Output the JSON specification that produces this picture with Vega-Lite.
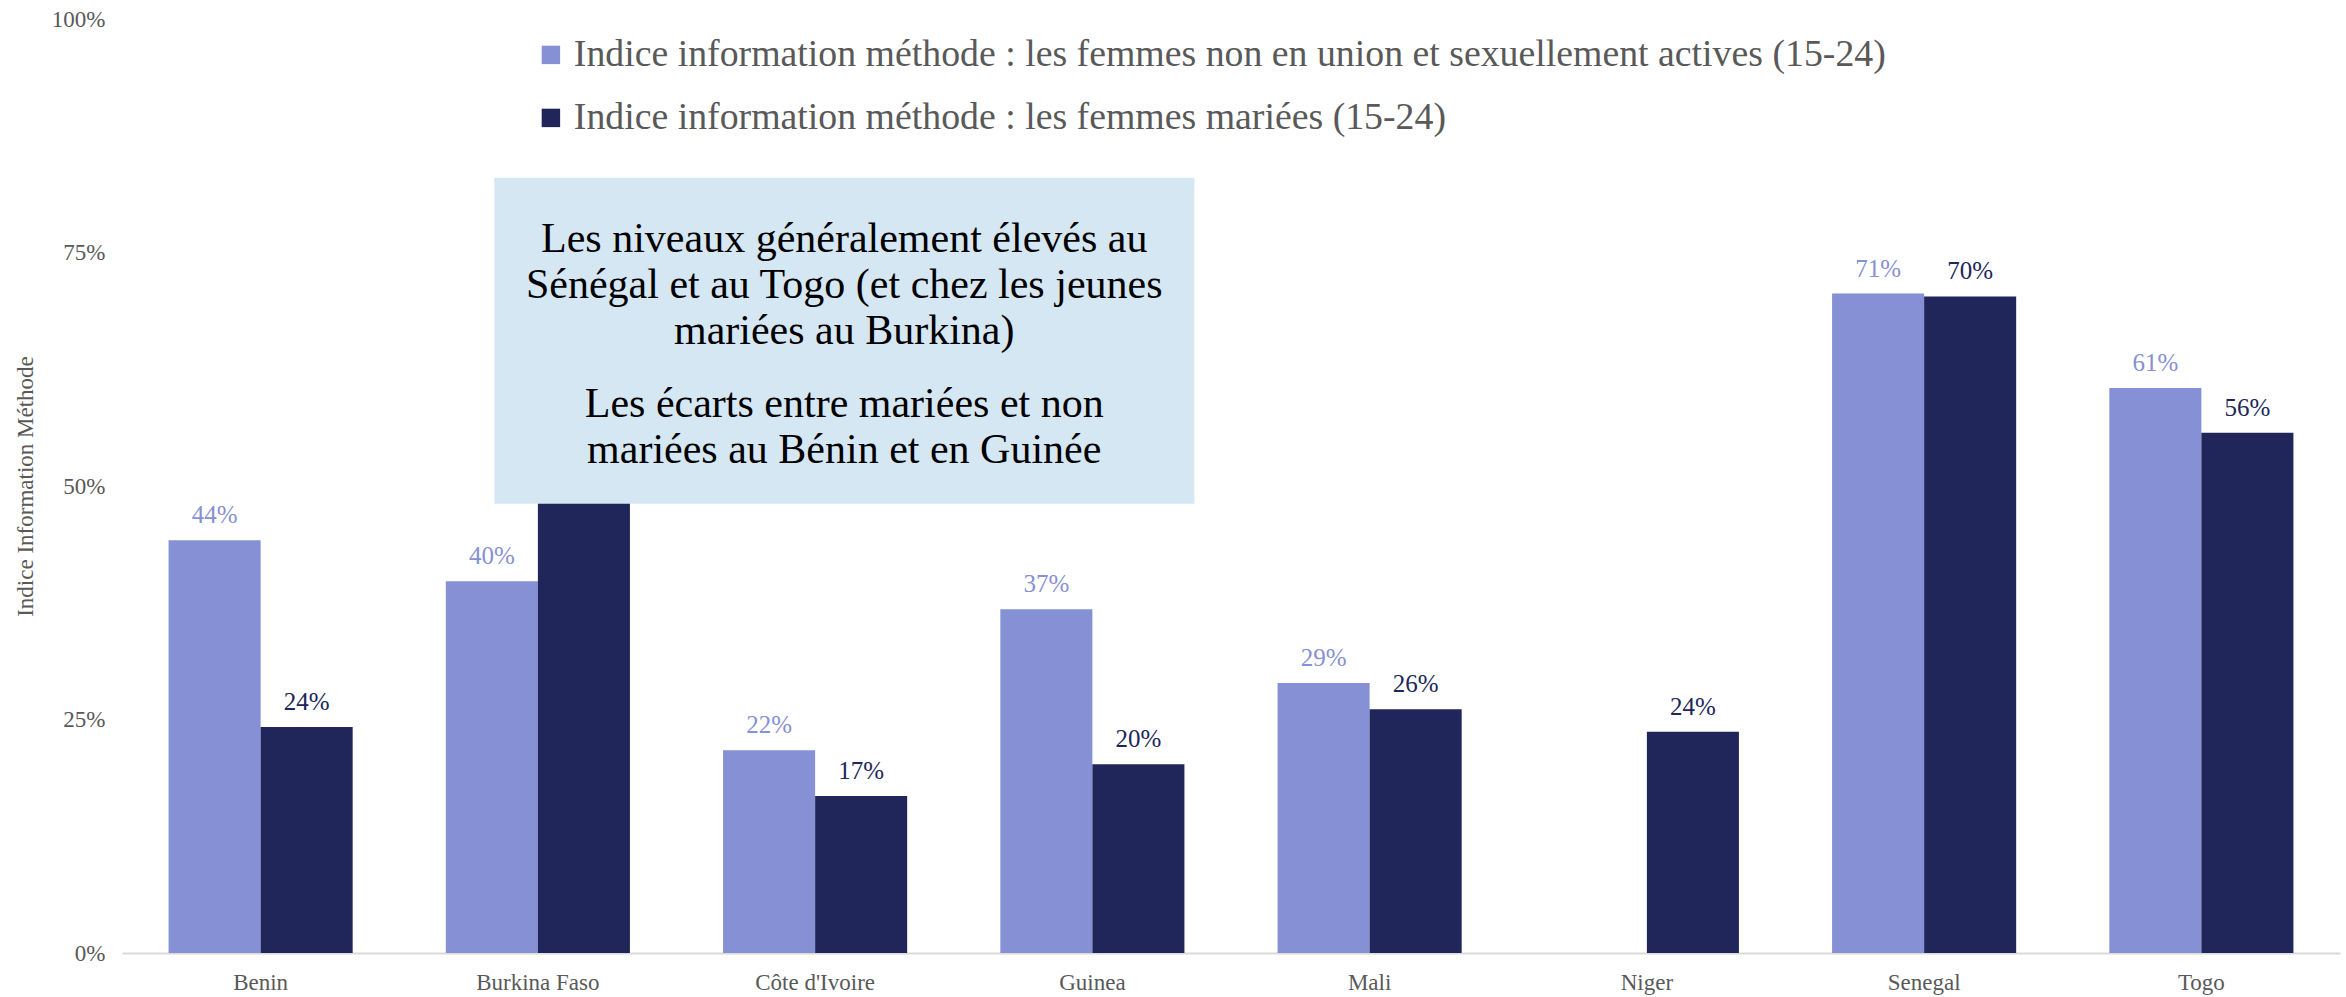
{
  "$schema": "https://vega.github.io/schema/vega-lite/v6.json",
  "width": 2218,
  "height": 934,
  "autosize": {"type": "none"},
  "padding": {"left": 122, "top": 19, "right": 6, "bottom": 44},
  "background": "white",
  "config": {
    "view": {"stroke": null},
    "font": "Liberation Serif",
    "axis": {"labelFont": "Liberation Serif", "titleFont": "Liberation Serif"},
    "legend": {"labelFont": "Liberation Serif"}
  },
  "datasets": {
    "bars": [
      {"country": "Benin", "serie": "Indice information méthode : les femmes non en union et sexuellement actives (15-24)", "value": 0.442},
      {"country": "Benin", "serie": "Indice information méthode : les femmes mariées (15-24)", "value": 0.242},
      {"country": "Burkina Faso", "serie": "Indice information méthode : les femmes non en union et sexuellement actives (15-24)", "value": 0.398},
      {"country": "Burkina Faso", "serie": "Indice information méthode : les femmes mariées (15-24)", "value": 0.62},
      {"country": "Côte d'Ivoire", "serie": "Indice information méthode : les femmes non en union et sexuellement actives (15-24)", "value": 0.217},
      {"country": "Côte d'Ivoire", "serie": "Indice information méthode : les femmes mariées (15-24)", "value": 0.168},
      {"country": "Guinea", "serie": "Indice information méthode : les femmes non en union et sexuellement actives (15-24)", "value": 0.368},
      {"country": "Guinea", "serie": "Indice information méthode : les femmes mariées (15-24)", "value": 0.202},
      {"country": "Mali", "serie": "Indice information méthode : les femmes non en union et sexuellement actives (15-24)", "value": 0.289},
      {"country": "Mali", "serie": "Indice information méthode : les femmes mariées (15-24)", "value": 0.261},
      {"country": "Niger", "serie": "Indice information méthode : les femmes mariées (15-24)", "value": 0.237},
      {"country": "Senegal", "serie": "Indice information méthode : les femmes non en union et sexuellement actives (15-24)", "value": 0.706},
      {"country": "Senegal", "serie": "Indice information méthode : les femmes mariées (15-24)", "value": 0.703},
      {"country": "Togo", "serie": "Indice information méthode : les femmes non en union et sexuellement actives (15-24)", "value": 0.605},
      {"country": "Togo", "serie": "Indice information méthode : les femmes mariées (15-24)", "value": 0.557}
    ]
  },
  "layer": [
    {
      "data": {"name": "bars"},
      "encoding": {
        "x": {
          "field": "country", "type": "nominal", "sort": null,
          "scale": {"paddingInner": 0.336, "paddingOuter": 0.168},
          "axis": {
            "title": null, "labelAngle": 0, "ticks": false, "domain": true,
            "domainColor": "#D9D9D9", "domainWidth": 2, "labelFontSize": 23,
            "labelColor": "#595959", "labelPadding": 18, "grid": false
          }
        },
        "xOffset": {
          "field": "serie", "type": "nominal",
          "scale": {
            "domain": ["Indice information méthode : les femmes non en union et sexuellement actives (15-24)", "Indice information méthode : les femmes mariées (15-24)"],
            "paddingInner": 0, "paddingOuter": 0
          }
        },
        "y": {
          "field": "value", "type": "quantitative",
          "scale": {"domain": [0, 1], "nice": false},
          "axis": {
            "values": [0, 0.25, 0.5, 0.75, 1], "format": ".0%", "grid": false,
            "domain": false, "ticks": false, "labelFontSize": 23, "labelColor": "#595959",
            "labelPadding": 17, "title": "Indice Information Méthode", "titleFontSize": 23,
            "titleFontWeight": "normal", "titleColor": "#595959", "titlePadding": 14
          }
        },
        "color": {
          "field": "serie", "type": "nominal",
          "scale": {
            "domain": ["Indice information méthode : les femmes non en union et sexuellement actives (15-24)", "Indice information méthode : les femmes mariées (15-24)"],
            "range": ["#8690D4", "#202659"]
          },
          "legend": {
            "orient": "none", "legendX": 410, "legendY": 17, "title": null,
            "labelFontSize": 37.8, "labelColor": "#595959", "symbolType": "square",
            "symbolSize": 340, "symbolStrokeWidth": 0, "rowPadding": 24,
            "labelOffset": 4, "labelLimit": 2000, "padding": 0, "direction": "vertical"
          }
        }
      },
      "layer": [
        {"mark": {"type": "bar"}},
        {
          "mark": {"type": "text", "baseline": "alphabetic", "dy": -17, "fontSize": 25, "font": "Liberation Serif"},
          "encoding": {"text": {"field": "value", "type": "quantitative", "format": ".0%"}}
        }
      ]
    },
    {
      "data": {"values": [{"note": "annotation"}]},
      "layer": [
        {
          "mark": {"type": "rect", "color": "#D6E7F4"},
          "encoding": {
            "x": {"datum": 1.343, "type": "quantitative", "scale": {"domain": [0, 8], "nice": false, "zero": false}, "axis": null},
            "x2": {"datum": 3.868},
            "y": {"datum": 0.83, "type": "quantitative"},
            "y2": {"datum": 0.481}
          }
        },
        {
          "mark": {
            "type": "text", "font": "Liberation Serif", "fontSize": 42, "color": "#000000",
            "align": "center", "baseline": "middle", "lineHeight": 46,
            "text": ["Les niveaux généralement élevés au", "Sénégal et au Togo (et chez les jeunes", "mariées au Burkina)"]
          },
          "encoding": {
            "x": {"datum": 2.605, "type": "quantitative", "scale": {"domain": [0, 8], "nice": false, "zero": false}, "axis": null},
            "y": {"datum": 0.764, "type": "quantitative"}
          }
        },
        {
          "mark": {
            "type": "text", "font": "Liberation Serif", "fontSize": 42, "color": "#000000",
            "align": "center", "baseline": "middle", "lineHeight": 46,
            "text": ["Les écarts entre mariées et non", "mariées au Bénin et en Guinée"]
          },
          "encoding": {
            "x": {"datum": 2.605, "type": "quantitative", "scale": {"domain": [0, 8], "nice": false, "zero": false}, "axis": null},
            "y": {"datum": 0.588, "type": "quantitative"}
          }
        }
      ]
    }
  ],
  "resolve": {"scale": {"x": "independent"}}
}
